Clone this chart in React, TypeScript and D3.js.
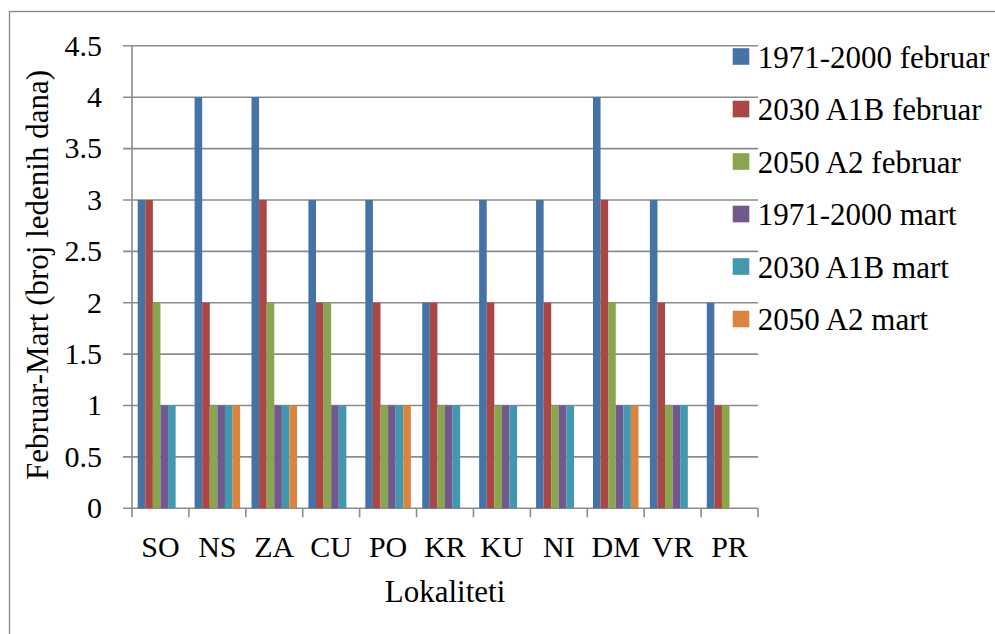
import React from "react";
import * as d3 from "d3";

const categories = ["SO", "NS", "ZA", "CU", "PO", "KR", "KU", "NI", "DM", "VR", "PR"];
const seriesNames = [
  "1971-2000 februar",
  "2030 A1B februar",
  "2050 A2 februar",
  "1971-2000 mart",
  "2030 A1B mart",
  "2050 A2 mart",
];
const feb1971 = [3, 4, 4, 3, 3, 2, 3, 3, 4, 3, 2];
const feb2030 = [3, 2, 3, 2, 2, 2, 2, 2, 3, 2, 1];
const feb2050 = [2, 1, 2, 2, 1, 1, 1, 1, 2, 1, 1];
const mar1971 = [1, 1, 1, 1, 1, 1, 1, 1, 1, 1, 0];
const mar2030 = [1, 1, 1, 1, 1, 1, 1, 1, 1, 1, 0];
const mar2050 = [0, 1, 1, 0, 1, 0, 0, 0, 1, 0, 0];
const seriesValues = [feb1971, feb2030, feb2050, mar1971, mar2030, mar2050];
const colors = ["#4572A7", "#AA4643", "#89A54E", "#71588F", "#4198AF", "#DB843D"];
const yTicks = [0, 0.5, 1, 1.5, 2, 2.5, 3, 3.5, 4, 4.5];
const yTickLabels = ["0", "0.5", "1", "1.5", "2", "2.5", "3", "3.5", "4", "4.5"];
const yTitle = "Februar-Mart (broj ledenih dana)";
const xTitle = "Lokaliteti";

const W = 995;
const H = 634;
const FONT = "Liberation Serif";

export default function App() {
  const left = 132;
  const right = 758;
  const top = 45.8;
  const bottom = 508.3;
  const grid = "#8c8c8c";

  const x0 = d3.scaleBand<string>().domain(categories).range([left, right]).padding(0);
  const x1 = d3
    .scaleBand<string>()
    .domain(seriesNames)
    .range([0, x0.bandwidth()])
    .paddingInner(0)
    .paddingOuter(0.75);
  const y = d3.scaleLinear().domain([0, 4.5]).range([bottom, top]);

  const legendY = d3.scalePoint<string>().domain(seriesNames).range([56.5, 319]);
  const ts = { fontFamily: FONT };

  return (
    <svg
      width={W}
      height={H}
      style={{ position: "absolute", left: 0, top: 0, background: "#fff", fontFamily: FONT }}
    >
      <rect x={9.5} y={11.5} width={W + 20} height={H + 20} fill="#fff" stroke="#868686" strokeWidth={1.3} />
      {yTicks.map((t, i) => (
        <line key={"g" + i} x1={left - 9} x2={right} y1={y(t)} y2={y(t)} stroke={grid} strokeWidth={1.6} />
      ))}
      <line x1={left} x2={left} y1={top} y2={bottom} stroke={grid} strokeWidth={1.6} />
      {categories.concat(["__end"]).map((c, i) => {
        const xx = i < categories.length ? (x0(c) as number) : right;
        return <line key={"xt" + i} x1={xx} x2={xx} y1={bottom} y2={bottom + 9} stroke={grid} strokeWidth={1.6} />;
      })}
      {seriesValues.map((vals, si) =>
        vals.map((v, ci) => {
          if (v <= 0) return null;
          const bx = (x0(categories[ci]) as number) + (x1(seriesNames[si]) as number);
          return (
            <rect
              key={`b${si}-${ci}`}
              x={bx}
              y={y(v)}
              width={x1.bandwidth()}
              height={bottom - y(v)}
              fill={colors[si]}
            />
          );
        })
      )}
      {yTicks.map((t, i) => (
        <text key={"yl" + i} x={102} y={y(t)} dy="0.33em" textAnchor="end" fontSize={30} fill="#000" style={ts}>
          {yTickLabels[i]}
        </text>
      ))}
      {categories.map((c) => (
        <text
          key={"xl" + c}
          x={(x0(c) as number) + x0.bandwidth() / 2}
          y={557}
          textAnchor="middle"
          fontSize={30}
          fill="#000"
          style={ts}
        >
          {c}
        </text>
      ))}
      <text x={(left + right) / 2} y={601.5} textAnchor="middle" fontSize={31} fill="#000" style={ts}>
        {xTitle}
      </text>
      <text transform="translate(48,275) rotate(-90)" textAnchor="middle" fontSize={31} fill="#000" style={ts}>
        {yTitle}
      </text>
      {seriesNames.map((s, i) => {
        const cy = legendY(s) as number;
        return (
          <g key={"lg" + i}>
            <rect x={732.7} y={cy - 8.3} width={16.6} height={16.6} fill={colors[i]} />
            <text x={757.7} y={cy + 11} fontSize={31} fill="#000" style={ts}>
              {s}
            </text>
          </g>
        );
      })}
    </svg>
  );
}
